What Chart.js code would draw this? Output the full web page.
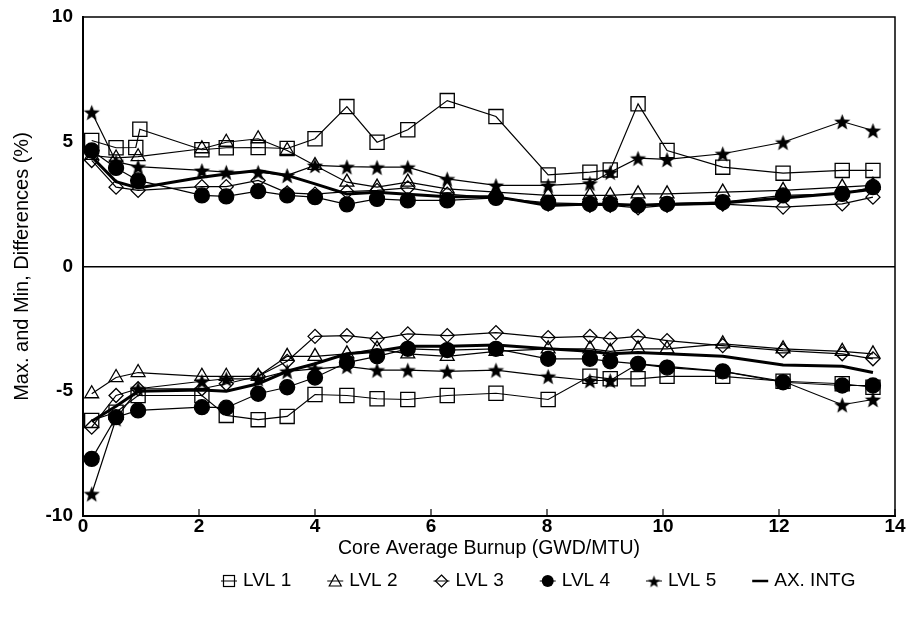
<!DOCTYPE html>
<html>
<head>
<meta charset="utf-8">
<script src="https://cdn.jsdelivr.net/npm/chart.js@4.4.0/dist/chart.umd.min.js"></script>
<style>
	html, body { margin: 0; padding: 0; background: #fff; }
	#wrap { width: 909px; height: 617px; }
</style>
</head>
<body>
<div id="wrap"><canvas id="chart" width="909" height="617"></canvas></div>
<script>
// burnup points (GWD/MTU)
const burnup = [0.15, 0.57, 0.95, 2.05, 2.47, 3.02, 3.52, 4.0, 4.55, 5.07, 5.6, 6.28, 7.12, 8.02, 8.74, 9.09, 9.57, 10.07, 11.03, 12.07, 13.09, 13.62];
// LVL 1 max curve has one extra point near 0.9
const lvl1MaxBurnup = [0.15, 0.57, 0.91, 0.98, 2.05, 2.47, 3.02, 3.52, 4.0, 4.55, 5.07, 5.6, 6.28, 7.12, 8.02, 8.74, 9.09, 9.57, 10.07, 11.03, 12.07, 13.09, 13.62];

// max differences (%)
const lvl1Max = [5.05, 4.76, 4.77, 5.5, 4.68, 4.76, 4.77, 4.73, 5.12, 6.41, 4.98, 5.48, 6.65, 6.01, 3.67, 3.78, 3.87, 6.52, 4.65, 3.98, 3.74, 3.85, 3.85];
const lvl2Max = [4.45, 4.35, 4.4, 4.72, 4.98, 5.12, 4.65, 4.05, 3.38, 3.18, 3.38, 3.11, 2.98, 2.85, 2.85, 2.85, 2.91, 2.91, 2.98, 3.05, 3.18, 3.25];
const lvl3Max = [4.25, 3.18, 3.05, 3.2, 3.2, 3.45, 2.95, 2.9, 3.0, 3.05, 3.15, 2.9, 2.75, 2.5, 2.45, 2.45, 2.35, 2.45, 2.5, 2.38, 2.51, 2.78];
const lvl4Max = [4.65, 3.95, 3.45, 2.85, 2.81, 3.02, 2.85, 2.78, 2.49, 2.71, 2.65, 2.65, 2.75, 2.55, 2.51, 2.51, 2.45, 2.51, 2.58, 2.85, 2.91, 3.18];
const lvl5Max = [6.18, 4.2, 4.0, 3.85, 3.78, 3.78, 3.65, 4.05, 4.0, 3.98, 3.98, 3.51, 3.25, 3.25, 3.34, 3.78, 4.34, 4.29, 4.52, 4.98, 5.81, 5.45];
const axMax = [4.4, 3.4, 3.15, 3.58, 3.71, 3.85, 3.65, 3.31, 2.91, 2.98, 2.9, 2.8, 2.8, 2.45, 2.5, 2.5, 2.45, 2.5, 2.55, 2.75, 2.95, 3.1];

// min differences (%)
const lvl1Min = [-6.17, -5.84, -5.17, -5.17, -5.97, -6.14, -6.01, -5.13, -5.17, -5.3, -5.33, -5.17, -5.08, -5.33, -4.4, -4.5, -4.5, -4.4, -4.4, -4.6, -4.7, -4.84];
const lvl2Min = [-5.1, -4.45, -4.25, -4.4, -4.4, -4.4, -3.6, -3.6, -3.5, -3.3, -3.5, -3.6, -3.4, -3.3, -3.3, -3.4, -3.3, -3.3, -3.1, -3.3, -3.4, -3.5];
const lvl3Min = [-6.44, -5.17, -4.9, -4.9, -4.7, -4.4, -3.8, -2.8, -2.77, -2.9, -2.7, -2.77, -2.65, -2.85, -2.8, -2.9, -2.8, -2.97, -3.17, -3.37, -3.5, -3.7];
const lvl4Min = [-7.71, -6.04, -5.77, -5.64, -5.66, -5.1, -4.84, -4.45, -3.85, -3.6, -3.3, -3.35, -3.3, -3.7, -3.7, -3.8, -3.9, -4.05, -4.2, -4.64, -4.77, -4.77];
const lvl5Min = [-9.11, -6.1, -4.9, -4.6, -4.5, -4.5, -4.2, -4.1, -4.0, -4.15, -4.15, -4.2, -4.15, -4.4, -4.57, -4.57, -3.9, -4.0, -4.2, -4.6, -5.54, -5.33];
const axMin = [-6.2, -5.6, -5.0, -4.95, -5.0, -4.7, -4.2, -3.9, -3.5, -3.4, -3.2, -3.2, -3.15, -3.3, -3.4, -3.5, -3.45, -3.5, -3.6, -3.95, -4.0, -4.25];

const seriesLabels = ["LVL 1", "LVL 2", "LVL 3", "LVL 4", "LVL 5", "AX. INTG"];
const FONT = "'Liberation Sans', Arial, sans-serif";

function toPoints(xs, ys) {
	return ys.map((y, i) => ({ x: xs[i], y }));
}

// filled star for LVL 5
function makeStar(outer) {
	const c = document.createElement("canvas");
	const s = Math.ceil(outer * 2 + 2);
	c.width = s; c.height = s;
	const g = c.getContext("2d");
	const inner = outer * 0.42;
	g.beginPath();
	for (let i = 0; i < 10; i++) {
		const r = i % 2 === 0 ? outer : inner;
		const a = -Math.PI / 2 + i * Math.PI / 5;
		const px = s / 2 + r * Math.cos(a);
		const py = s / 2 + 1 + r * Math.sin(a);
		i === 0 ? g.moveTo(px, py) : g.lineTo(px, py);
	}
	g.closePath();
	g.fillStyle = "#000";
	g.fill();
	return c;
}
const starMark = makeStar(8.5);

const markers = [
	{ pointStyle: "rect", pointRadius: 10, fill: "rgba(0,0,0,0)" },
	{ pointStyle: "triangle", pointRadius: 8, fill: "rgba(0,0,0,0)" },
	{ pointStyle: "rectRot", pointRadius: 7, fill: "rgba(0,0,0,0)" },
	{ pointStyle: "circle", pointRadius: 7.5, fill: "#000" },
	{ pointStyle: starMark, pointRadius: 8, fill: "#000" }
];

function lvlSet(label, pts, m, hidden) {
	return {
		label,
		data: pts,
		borderColor: "#000",
		borderWidth: 1.2,
		backgroundColor: m.fill,
		pointStyle: m.pointStyle,
		pointRadius: m.pointRadius,
		pointBorderColor: "#000",
		pointBorderWidth: 1.3,
		pointBackgroundColor: m.fill,
		tension: 0,
		isMin: hidden
	};
}

const maxData = [toPoints(lvl1MaxBurnup, lvl1Max), toPoints(burnup, lvl2Max), toPoints(burnup, lvl3Max), toPoints(burnup, lvl4Max), toPoints(burnup, lvl5Max)];
const minData = [toPoints(burnup, lvl1Min), toPoints(burnup, lvl2Min), toPoints(burnup, lvl3Min), toPoints(burnup, lvl4Min), toPoints(burnup, lvl5Min)];

const datasets = [];
maxData.forEach((pts, i) => datasets.push(lvlSet(seriesLabels[i], pts, markers[i], false)));
minData.forEach((pts, i) => datasets.push(lvlSet(seriesLabels[i], pts, markers[i], true)));
[axMax, axMin].forEach((ys, i) => datasets.push({
	label: seriesLabels[5],
	data: toPoints(burnup, ys),
	borderColor: "#000",
	borderWidth: 3,
	pointRadius: 0,
	tension: 0,
	isMin: i === 1
}));

// frame, inward x ticks and the custom legend
const framePlugin = {
	id: "frame",
	afterDraw(chart) {
		const { ctx, chartArea: a, scales } = chart;
		ctx.save();
		ctx.strokeStyle = "#000";
		ctx.lineWidth = 1.5;
		ctx.beginPath();
		ctx.moveTo(a.left, a.top); ctx.lineTo(a.right, a.top); ctx.lineTo(a.right, a.bottom);
		ctx.stroke();
		ctx.lineWidth = 1.2;
		scales.x.ticks.forEach(t => {
			const px = scales.x.getPixelForValue(t.value);
			ctx.beginPath();
			ctx.moveTo(px, a.bottom); ctx.lineTo(px, a.bottom - 7);
			ctx.stroke();
		});

		// legend
		const y = 581;
		ctx.font = "19px " + FONT;
		ctx.fillStyle = "#000";
		ctx.textBaseline = "middle";
		let x = 229;
		seriesLabels.forEach((lab, i) => {
			ctx.lineWidth = i === 5 ? 2.5 : 1;
			ctx.beginPath();
			ctx.moveTo(x - 8, y); ctx.lineTo(x + 8, y);
			ctx.stroke();
			ctx.lineWidth = 1.2;
			if (i === 0) { ctx.strokeRect(x - 5.5, y - 5.5, 11, 11); }
			if (i === 1) {
				ctx.beginPath(); ctx.moveTo(x, y - 6); ctx.lineTo(x + 6, y + 5); ctx.lineTo(x - 6, y + 5); ctx.closePath(); ctx.stroke();
			}
			if (i === 2) {
				ctx.beginPath(); ctx.moveTo(x, y - 6); ctx.lineTo(x + 6, y); ctx.lineTo(x, y + 6); ctx.lineTo(x - 6, y); ctx.closePath(); ctx.stroke();
			}
			if (i === 3) { ctx.beginPath(); ctx.arc(x, y, 6, 0, Math.PI * 2); ctx.fill(); }
			if (i === 4) { ctx.drawImage(makeStar(6.5), x - 7.5, y - 7.5); }
			ctx.fillText(lab, x + 14, y);
			x += 14 + ctx.measureText(lab).width + 44;
		});
		ctx.restore();
	}
};

new Chart(document.getElementById("chart"), {
	type: "line",
	data: { datasets },
	options: {
		responsive: false,
		animation: false,
		devicePixelRatio: 1,
		layout: { padding: { top: 17, right: 14, left: 0, bottom: 55 } },
		plugins: {
			legend: { display: false },
			tooltip: { enabled: false }
		},
		scales: {
			x: {
				type: "linear",
				min: 0,
				max: 14,
				ticks: { stepSize: 2, padding: 1, color: "#000", font: { family: FONT, size: 19, weight: "bold", lineHeight: 1 } },
				grid: { display: false, drawTicks: false },
				border: { display: true, color: "#000", width: 2 },
				title: { display: true, text: "Core Average Burnup (GWD/MTU)", color: "#000", padding: { top: 0, bottom: 2 }, font: { family: FONT, size: 19.5 } },
				afterFit: s => { s.height = 46; s.paddingLeft = 0; s.paddingRight = 0; }
			},
			y: {
				min: -10,
				max: 10,
				ticks: { stepSize: 5, padding: 10, color: "#000", font: { family: FONT, size: 19, weight: "bold", lineHeight: 1 } },
				grid: {
					drawTicks: false,
					color: c => c.tick && c.tick.value === 0 ? "#000" : "rgba(0,0,0,0)",
					lineWidth: c => c.tick && c.tick.value === 0 ? 1.5 : 0
				},
				border: { display: true, color: "#000", width: 2 },
				title: { display: true, text: "Max. and Min, Differences (%)", color: "#000", padding: { top: 10, bottom: 0 }, font: { family: FONT, size: 20 } },
				afterFit: s => { s.width = 83; s.paddingTop = 0; s.paddingBottom = 0; }
			}
		}
	},
	plugins: [framePlugin]
});
</script>
</body>
</html>
